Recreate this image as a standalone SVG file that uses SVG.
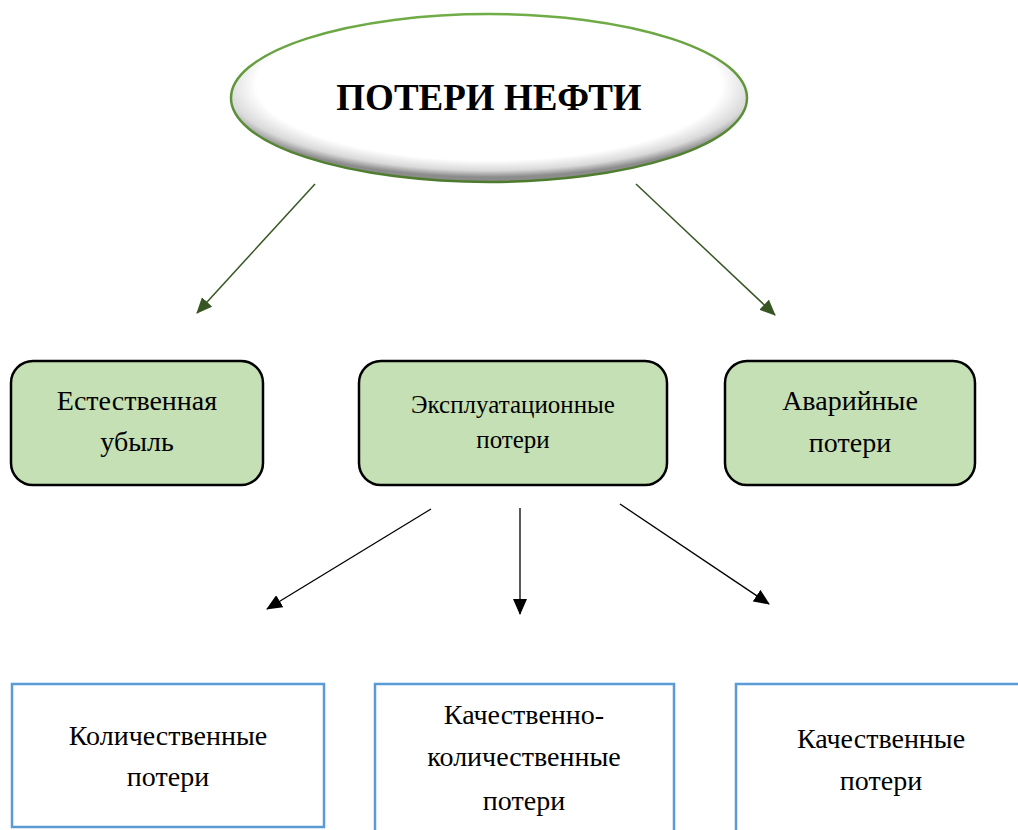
<svg xmlns="http://www.w3.org/2000/svg" width="1018" height="830" viewBox="0 0 1018 830">
<style>
.g{fill:#c5e0b4;stroke:#000;stroke-width:2.5}
.b{fill:#fff;stroke:#5b9bd5;stroke-width:2.5}
.ga{stroke:#375623;stroke-width:1.5;fill:none;marker-end:url(#ag)}
.ka{stroke:#000;stroke-width:1.3;fill:none;marker-end:url(#ak)}
</style>
<defs>
<radialGradient id="eg" cx="0.5" cy="0.42" r="0.55">
<stop offset="0" stop-color="#fff"/>
<stop offset="0.82" stop-color="#fff"/>
<stop offset="0.93" stop-color="#d9d9d9"/>
<stop offset="1" stop-color="#8c8c8c"/>
</radialGradient>
<linearGradient id="es" x1="0" y1="0" x2="0" y2="1">
<stop offset="0" stop-color="#70ad47"/>
<stop offset="1" stop-color="#4e7a2e"/>
</linearGradient>
<marker id="ag" markerWidth="16" markerHeight="14" refX="15" refY="7" orient="auto" markerUnits="userSpaceOnUse" viewBox="0 0 16 14">
<path d="M0,0 L16,7 L0,14 Z" fill="#375623"/>
</marker>
<marker id="ak" markerWidth="16" markerHeight="14" refX="15" refY="7" orient="auto" markerUnits="userSpaceOnUse" viewBox="0 0 16 14">
<path d="M0,0 L16,7 L0,14 Z" fill="#000"/>
</marker>
</defs>
<g font-family="Liberation Serif, DejaVu Serif, serif" text-anchor="middle" fill="#000">
<g id="root">
<ellipse cx="489" cy="98" rx="258" ry="84" fill="url(#eg)" stroke="url(#es)" stroke-width="2.5"/>
<text x="489" y="110" font-size="37" font-weight="bold">ПОТЕРИ НЕФТИ</text>
</g>
<g id="connectors">
<line class="ga" x1="315" y1="184" x2="197" y2="313"/>
<line class="ga" x1="636" y1="184" x2="775" y2="315"/>
<line class="ka" x1="431" y1="509" x2="267" y2="609"/>
<line class="ka" x1="520" y1="508" x2="520" y2="614"/>
<line class="ka" x1="620" y1="504" x2="769" y2="604"/>
</g>
<g id="n1">
<rect class="g" x="11" y="361" width="252" height="124" rx="22"/>
<text x="137" y="410" font-size="28">Естественная</text>
<text x="137" y="451" font-size="28">убыль</text>
</g>
<g id="n2">
<rect class="g" x="359" y="361" width="308" height="124" rx="22"/>
<text x="513" y="413" font-size="25">Эксплуатационные</text>
<text x="513" y="448" font-size="25">потери</text>
</g>
<g id="n3">
<rect class="g" x="725" y="361" width="250" height="124" rx="22"/>
<text x="850" y="410" font-size="28">Аварийные</text>
<text x="850" y="452" font-size="28">потери</text>
</g>
<g id="n4">
<rect class="b" x="12" y="684" width="312" height="143"/>
<text x="168" y="745" font-size="28">Количественные</text>
<text x="168" y="786" font-size="28">потери</text>
</g>
<g id="n5">
<rect class="b" x="375" y="684" width="299" height="160"/>
<text x="524" y="724" font-size="28">Качественно-</text>
<text x="524" y="766" font-size="28">количественные</text>
<text x="524" y="810" font-size="28">потери</text>
</g>
<g id="n6">
<rect class="b" x="736" y="684" width="300" height="160"/>
<text x="881" y="748" font-size="28">Качественные</text>
<text x="881" y="790" font-size="28">потери</text>
</g>
</g>
</svg>
